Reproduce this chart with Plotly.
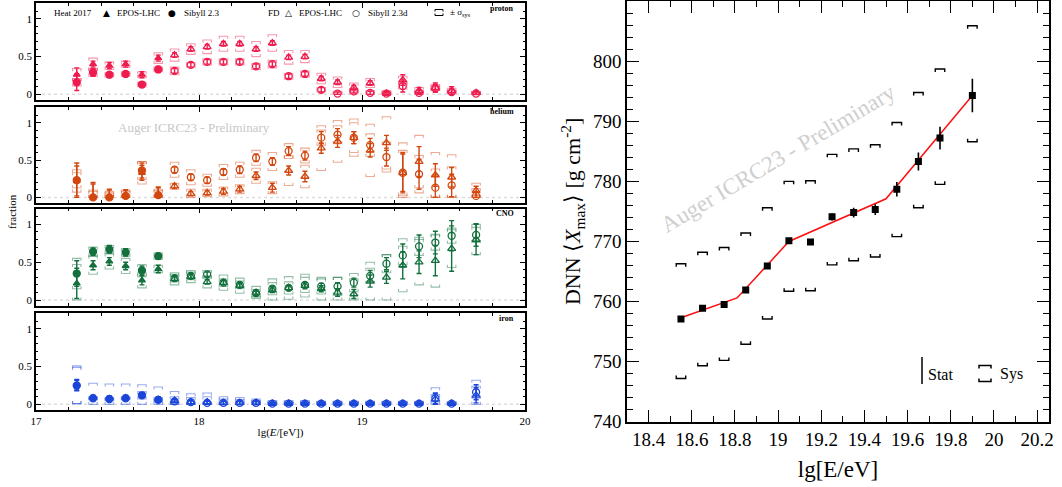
import plotly.graph_objects as go

W, H = 1062, 487
SERIF = "Liberation Serif"

# ---------------- left: composition fractions ----------------
lgE = [17.25, 17.35, 17.45, 17.55, 17.65, 17.75, 17.85, 17.95, 18.05, 18.15, 18.25, 18.35, 18.45,
       18.55, 18.65, 18.75, 18.85, 18.95, 19.05, 19.15, 19.25, 19.35, 19.45, 19.55, 19.70]
N_HEAT = 6  # first bins from Heat 2017, rest from FD

proton_epos = [0.26, 0.40, 0.38, 0.40, 0.26, 0.48, 0.52, 0.60, 0.63, 0.67, 0.67, 0.60, 0.68,
               0.49, 0.50, 0.21, 0.16, 0.09, 0.15, 0.01, 0.19, 0.05, 0.09, 0.05, 0.02]
proton_sib = [0.16, 0.29, 0.26, 0.27, 0.13, 0.33, 0.31, 0.39, 0.43, 0.43, 0.43, 0.37, 0.40,
              0.24, 0.27, 0.06, 0.01, 0.04, 0.02, 0.01, 0.11, 0.02, 0.08, 0.03, 0.01]
proton_epos_stat = [0.09, 0.04, 0.04, 0.04, 0.04, 0.04, 0.03, 0.03, 0.03, 0.03, 0.03, 0.03, 0.03,
                    0.03, 0.03, 0.03, 0.03, 0.03, 0.03, 0.02, 0.07, 0.04, 0.06, 0.05, 0.03]
proton_sib_stat = [0.11, 0.05, 0.03, 0.03, 0.03, 0.04, 0.03, 0.03, 0.03, 0.03, 0.03, 0.03, 0.03,
                   0.03, 0.03, 0.03, 0.02, 0.02, 0.02, 0.02, 0.08, 0.03, 0.05, 0.04, 0.02]
proton_epos_sys = [0.08, 0.08, 0.05, 0.04, 0.04, 0.07, 0.08, 0.07, 0.09, 0.10, 0.10, 0.10, 0.11,
                   0.09, 0.08, 0.07, 0.07, 0.06, 0.06, 0.04, 0.05, 0.04, 0.04, 0.03, 0.02]
proton_sib_sys = [0.05, 0.05, 0.03, 0.03, 0.03, 0.03, 0.05, 0.03, 0.04, 0.04, 0.04, 0.04, 0.05,
                  0.04, 0.04, 0.03, 0.03, 0.03, 0.03, 0.02, 0.04, 0.03, 0.03, 0.02, 0.02]

helium_epos = [0.22, 0.00, 0.00, 0.02, 0.33, 0.03, 0.15, 0.05, 0.06, 0.08, 0.11, 0.29, 0.13,
               0.36, 0.28, 0.66, 0.75, 0.80, 0.63, 0.73, 0.33, 0.48, 0.30, 0.27, 0.09]
helium_sib = [0.23, 0.00, 0.00, 0.02, 0.36, 0.03, 0.37, 0.27, 0.23, 0.34, 0.37, 0.53, 0.48,
              0.62, 0.56, 0.80, 0.84, 0.80, 0.70, 0.54, 0.33, 0.31, 0.13, 0.16, 0.02]
helium_epos_stat = [0.20, 0.18, 0.10, 0.08, 0.10, 0.10, 0.03, 0.03, 0.03, 0.04, 0.04, 0.05, 0.06,
                    0.06, 0.07, 0.07, 0.08, 0.08, 0.09, 0.10, 0.25, 0.20, 0.15, 0.13, 0.06]
helium_sib_stat = [0.23, 0.20, 0.11, 0.08, 0.10, 0.11, 0.04, 0.04, 0.04, 0.04, 0.05, 0.05, 0.05,
                   0.06, 0.06, 0.08, 0.08, 0.08, 0.09, 0.12, 0.27, 0.20, 0.17, 0.15, 0.06]
helium_epos_sys = [0.15, 0.10, 0.08, 0.08, 0.15, 0.08, 0.04, 0.06, 0.05, 0.06, 0.06, 0.10, 0.08,
                   0.20, 0.15, 0.30, 0.28, 0.25, 0.35, 0.35, 0.30, 0.35, 0.30, 0.30, 0.10]
helium_sib_sys = [0.10, 0.08, 0.06, 0.06, 0.12, 0.06, 0.10, 0.10, 0.08, 0.10, 0.10, 0.10, 0.12,
                  0.10, 0.10, 0.10, 0.12, 0.20, 0.15, 0.20, 0.40, 0.25, 0.25, 0.25, 0.10]

cno_epos = [0.22, 0.46, 0.51, 0.45, 0.26, 0.41, 0.28, 0.31, 0.24, 0.23, 0.19, 0.10, 0.13,
            0.16, 0.19, 0.15, 0.10, 0.08, 0.25, 0.30, 0.46, 0.50, 0.52, 0.68, 0.80]
cno_sib = [0.35, 0.64, 0.67, 0.63, 0.39, 0.58, 0.29, 0.32, 0.34, 0.23, 0.20, 0.09, 0.15,
           0.16, 0.20, 0.18, 0.18, 0.23, 0.32, 0.48, 0.59, 0.71, 0.76, 0.85, 0.86]
cno_epos_stat = [0.20, 0.06, 0.05, 0.05, 0.06, 0.05, 0.03, 0.03, 0.03, 0.03, 0.03, 0.03, 0.03,
                 0.03, 0.04, 0.04, 0.05, 0.06, 0.08, 0.08, 0.18, 0.15, 0.20, 0.30, 0.20]
cno_sib_stat = [0.17, 0.05, 0.05, 0.05, 0.06, 0.04, 0.03, 0.03, 0.03, 0.03, 0.03, 0.03, 0.03,
                0.03, 0.03, 0.04, 0.05, 0.06, 0.07, 0.08, 0.15, 0.15, 0.15, 0.20, 0.15]
cno_epos_sys = [0.25, 0.12, 0.10, 0.10, 0.10, 0.05, 0.08, 0.08, 0.08, 0.10, 0.10, 0.08, 0.15,
                0.15, 0.15, 0.15, 0.20, 0.20, 0.25, 0.30, 0.35, 0.30, 0.35, 0.25, 0.20]
cno_sib_sys = [0.20, 0.06, 0.05, 0.05, 0.08, 0.04, 0.05, 0.05, 0.05, 0.05, 0.05, 0.05, 0.08,
               0.08, 0.10, 0.10, 0.12, 0.12, 0.10, 0.12, 0.12, 0.12, 0.10, 0.10, 0.10]

iron_epos = [0.26, 0.09, 0.08, 0.09, 0.12, 0.07, 0.05, 0.03, 0.03, 0.02, 0.02, 0.02, 0.01,
             0.01, 0.01, 0.01, 0.01, 0.01, 0.01, 0.01, 0.01, 0.01, 0.07, 0.01, 0.12]
iron_sib = [0.25, 0.08, 0.07, 0.08, 0.12, 0.06, 0.04, 0.03, 0.02, 0.02, 0.02, 0.02, 0.01,
            0.01, 0.01, 0.01, 0.01, 0.01, 0.01, 0.01, 0.01, 0.01, 0.08, 0.01, 0.16]
iron_epos_stat = [0.07, 0.03, 0.03, 0.03, 0.03, 0.03, 0.02, 0.02, 0.02, 0.02, 0.02, 0.02, 0.01,
                  0.01, 0.01, 0.01, 0.01, 0.01, 0.01, 0.01, 0.01, 0.01, 0.07, 0.01, 0.10]
iron_sib_stat = [0.07, 0.03, 0.03, 0.03, 0.03, 0.03, 0.02, 0.02, 0.02, 0.02, 0.02, 0.02, 0.01,
                 0.01, 0.01, 0.01, 0.01, 0.01, 0.01, 0.01, 0.01, 0.01, 0.07, 0.01, 0.10]
iron_epos_sys = [0.25, 0.19, 0.19, 0.18, 0.14, 0.16, 0.12, 0.11, 0.12, 0.08, 0.07, 0.05, 0.04,
                 0.04, 0.04, 0.03, 0.03, 0.03, 0.03, 0.03, 0.03, 0.03, 0.15, 0.02, 0.20]
iron_sib_sys = [0.24, 0.02, 0.02, 0.02, 0.05, 0.03, 0.06, 0.06, 0.08, 0.05, 0.04, 0.03, 0.02,
                0.02, 0.02, 0.02, 0.02, 0.02, 0.02, 0.02, 0.02, 0.02, 0.05, 0.02, 0.08]

panel_names = ["proton", "helium", "CNO", "iron"]
panel_colors = ["#ee1c4e", "#d2470f", "#13703d", "#1a45d8"]
panel_sys_colors = ["rgba(238,28,78,0.45)", "rgba(210,71,15,0.45)",
                    "rgba(19,112,61,0.45)", "rgba(26,69,216,0.45)"]

# ---------------- right: DNN <Xmax> ----------------
dnn_lgE = [18.55, 18.65, 18.75, 18.85, 18.95, 19.05, 19.15, 19.25, 19.35, 19.45, 19.55, 19.65, 19.75, 19.90]
dnn_xmax = [757.1, 758.9, 759.5, 761.9, 765.9, 770.1, 769.9, 774.1, 774.8, 775.3, 778.7, 783.3, 787.2, 794.3]
dnn_stat = [0.4, 0.4, 0.4, 0.4, 0.4, 0.5, 0.5, 0.6, 0.8, 0.9, 1.2, 1.5, 1.9, 2.8]
dnn_sys_hi = [766.3, 768.2, 769.0, 771.4, 775.6, 780.0, 780.1, 784.5, 785.4, 786.1, 789.8, 794.8, 798.7, 805.9]
dnn_sys_lo = [747.2, 749.3, 750.2, 752.9, 757.1, 761.7, 761.8, 766.1, 766.8, 767.4, 770.8, 775.6, 779.5, 786.6]
fit_lgE = [18.55, 18.81, 19.05, 19.50, 19.90]
fit_xmax = [757.3, 760.6, 770.0, 777.1, 794.3]


def px(x):
    return x / W


def py(y):
    return 1 - y / H


def brackets(xs, lo, hi, hw, th):
    X, Y = [], []
    for x, l, h in zip(xs, lo, hi):
        X += [x - hw, x - hw, x + hw, x + hw, None, x - hw, x - hw, x + hw, x + hw, None]
        Y += [h - th, h, h, h - th, None, l + th, l, l, l + th, None]
    return X, Y


fig = go.Figure()

panel_rows = [(3, 100), (107, 203), (208.5, 305.7), (313, 410)]
series = {
    "proton": (proton_epos, proton_epos_stat, proton_epos_sys, proton_sib, proton_sib_stat, proton_sib_sys),
    "helium": (helium_epos, helium_epos_stat, helium_epos_sys, helium_sib, helium_sib_stat, helium_sib_sys),
    "CNO": (cno_epos, cno_epos_stat, cno_epos_sys, cno_sib, cno_sib_stat, cno_sib_sys),
    "iron": (iron_epos, iron_epos_stat, iron_epos_sys, iron_sib, iron_sib_stat, iron_sib_sys),
}

layout_axes = {}
shapes = []
annotations = []

for k, name in enumerate(panel_names):
    idx = k + 1
    xa = "x" if idx == 1 else f"x{idx}"
    ya = "y" if idx == 1 else f"y{idx}"
    col = panel_colors[k]
    scol = panel_sys_colors[k]
    epos, epos_stat, epos_sys, sib, sib_stat, sib_sys = series[name]

    # systematic brackets
    for vals, sysv in ((epos, epos_sys), (sib, sib_sys)):
        lo = [max(v - s, 0.0) for v, s in zip(vals, sysv)]
        hi = [v + s for v, s in zip(vals, sysv)]
        bx, by = brackets(lgE, lo, hi, 0.026, 0.035)
        fig.add_trace(go.Scatter(x=bx, y=by, mode="lines", xaxis=xa, yaxis=ya,
                                 line=dict(color=scol, width=1.1), showlegend=False,
                                 hoverinfo="skip"))

    def add_pts(xs, vals, stat, symbol, size):
        fig.add_trace(go.Scatter(
            x=xs, y=vals, mode="markers", xaxis=xa, yaxis=ya, showlegend=False,
            marker=dict(symbol=symbol, size=size, color=col, line=dict(color=col, width=1.3)),
            error_y=dict(type="data", array=stat,
                         arrayminus=[min(s, v) for s, v in zip(stat, vals)],
                         color=col, thickness=1.4, width=2.5)))

    add_pts(lgE[:N_HEAT], epos[:N_HEAT], epos_stat[:N_HEAT], "triangle-up", 6)
    add_pts(lgE[:N_HEAT], sib[:N_HEAT], sib_stat[:N_HEAT], "circle", 7)
    add_pts(lgE[N_HEAT:], epos[N_HEAT:], epos_stat[N_HEAT:], "triangle-up-open", 7)
    add_pts(lgE[N_HEAT:], sib[N_HEAT:], sib_stat[N_HEAT:], "circle-open", 7)

    top, bot = panel_rows[k]
    xkey = "xaxis" if idx == 1 else f"xaxis{idx}"
    ykey = "yaxis" if idx == 1 else f"yaxis{idx}"
    layout_axes[xkey] = dict(
        domain=[px(36), px(525)], range=[17, 20], anchor=ya, automargin=False,
        showline=True, mirror="allticks", linecolor="black", linewidth=1.6,
        ticks="inside", ticklen=5, tickwidth=1, tickcolor="black", dtick=1, tick0=17,
        minor=dict(ticks="inside", ticklen=3, dtick=0.2, tickcolor="black", tickwidth=1),
        showgrid=False, zeroline=False, showticklabels=(idx == 4),
        tickfont=dict(family=SERIF, size=11, color="black"),
    )
    if idx == 4:
        layout_axes[xkey]["title"] = dict(text="lg(<i>E</i>/[eV])", standoff=2,
                                          font=dict(family=SERIF, size=11, color="black"))
    layout_axes[ykey] = dict(
        domain=[py(bot), py(top)], range=[-0.075, 1.21], anchor=xa, automargin=False,
        showline=True, mirror="allticks", linecolor="black", linewidth=1.6,
        ticks="inside", ticklen=5, tickwidth=1, tickcolor="black", dtick=0.5, tick0=0,
        minor=dict(ticks="inside", ticklen=2.5, dtick=0.1, tickcolor="black", tickwidth=1),
        showgrid=False, zeroline=False,
        tickfont=dict(family=SERIF, size=11, color="black"),
    )
    shapes.append(dict(type="line", xref=xa, yref=ya, x0=17, x1=20, y0=0, y1=0,
                       line=dict(color="#dddddd", width=1.5, dash="dot"), layer="below"))
    annotations.append(dict(text=f"<b>{name}</b>", x=px(516), y=py(top + 5), xref="paper", yref="paper",
                            xanchor="right", yanchor="middle", showarrow=False,
                            font=dict(family=SERIF, size=8, color="black")))

# Right panel traces
sbx, sby = brackets(dnn_lgE, dnn_sys_lo, dnn_sys_hi, 0.022, 0.5)
fig.add_trace(go.Scatter(x=sbx, y=sby, mode="lines", xaxis="x5", yaxis="y5",
                         line=dict(color="black", width=1.4), showlegend=False, hoverinfo="skip"))
fig.add_trace(go.Scatter(x=fit_lgE, y=fit_xmax, mode="lines", xaxis="x5", yaxis="y5",
                         line=dict(color="#ff1010", width=1.5), showlegend=False))
fig.add_trace(go.Scatter(x=dnn_lgE, y=dnn_xmax, mode="markers", xaxis="x5", yaxis="y5",
                         marker=dict(symbol="square", size=7, color="black"),
                         error_y=dict(type="data", array=dnn_stat, color="black", thickness=1.6, width=0),
                         showlegend=False))

layout_axes["xaxis5"] = dict(
    domain=[px(627), px(1049)], range=[18.3, 20.255], anchor="y5", automargin=False,
    showline=True, mirror="allticks", linecolor="black", linewidth=1.6,
    ticks="inside", ticklen=12, tickwidth=1.3, tickcolor="black", dtick=0.2, tick0=18.4,
    minor=dict(ticks="inside", ticklen=6, dtick=0.1, tickcolor="black", tickwidth=1.3),
    showgrid=False, zeroline=False,
    tickfont=dict(family=SERIF, size=19, color="black"),
    title=dict(text="lg[E/eV]", standoff=12, font=dict(family=SERIF, size=23, color="black")),
)
layout_axes["yaxis5"] = dict(
    domain=[py(421.7), py(1)], range=[740, 810.02], anchor="x5", automargin=False,
    showline=True, mirror="allticks", linecolor="black", linewidth=1.6,
    ticks="inside", ticklen=12, tickwidth=1.3, tickcolor="black", dtick=10, tick0=740,
    minor=dict(ticks="inside", ticklen=6, dtick=2, tickcolor="black", tickwidth=1.3),
    showgrid=False, zeroline=False,
    tickfont=dict(family=SERIF, size=19, color="black"),
    title=dict(text="DNN ⟨<i>X</i><sub>max</sub>⟩ [g cm<sup>-2</sup>]", standoff=6,
               font=dict(family=SERIF, size=22, color="black")),
)

# Left-side texts
txt = dict(family=SERIF, size=9, color="black")
for text, x, anchor in [("Heat 2017", 52, "left"), ("EPOS-LHC", 115, "left"), ("Sibyll 2.3", 182, "left"),
                        ("FD", 266, "left"), ("EPOS-LHC", 297, "left"), ("Sibyll 2.3d", 366, "left"),
                        ("± σ<sub>sys</sub>", 448, "left")]:
    annotations.append(dict(text=text, x=px(x), y=py(12.5), xref="paper", yref="paper",
                            xanchor=anchor, yanchor="middle", showarrow=False, font=txt))
for sym, x in [("▲", 106), ("●", 172), ("△", 288), ("○", 356)]:
    annotations.append(dict(text=sym, x=px(x), y=py(12.5), xref="paper", yref="paper",
                            xanchor="center", yanchor="middle", showarrow=False,
                            font=dict(family="DejaVu Sans", size=9, color="black")))
# legend bracket symbol (left)
shapes.append(dict(type="path", xref="paper", yref="paper", line=dict(color="black", width=1),
                   path=f"M {px(435)},{py(11.5)} L {px(435)},{py(9.5)} L {px(443)},{py(9.5)} L {px(443)},{py(11.5)}"))
shapes.append(dict(type="path", xref="paper", yref="paper", line=dict(color="black", width=1),
                   path=f"M {px(435)},{py(13.5)} L {px(435)},{py(15.5)} L {px(443)},{py(15.5)} L {px(443)},{py(13.5)}"))

annotations.append(dict(text="fraction", x=px(12), y=py(212), xref="paper", yref="paper",
                        textangle=-90, showarrow=False, xanchor="center", yanchor="middle",
                        font=dict(family=SERIF, size=11, color="black")))
annotations.append(dict(text="Auger ICRC23 - Preliminary", x=px(194), y=py(127.5), xref="paper", yref="paper",
                        showarrow=False, xanchor="center", yanchor="middle",
                        font=dict(family=SERIF, size=13, color="#c8c8c8")))
# Right-side watermark & legend
annotations.append(dict(text="Auger ICRC23 - Preliminary", x=px(778), y=py(158), xref="paper", yref="paper",
                        showarrow=False, xanchor="center", yanchor="middle", textangle=-30.7,
                        font=dict(family=SERIF, size=23, color="#cfcfcf")))
shapes.append(dict(type="line", xref="paper", yref="paper", x0=px(922), x1=px(922), y0=py(357), y1=py(384),
                   line=dict(color="black", width=1.5)))
annotations.append(dict(text="Stat", x=px(926), y=py(374), xref="paper", yref="paper", showarrow=False,
                        xanchor="left", yanchor="middle", font=dict(family=SERIF, size=16, color="black")))
shapes.append(dict(type="path", xref="paper", yref="paper", line=dict(color="black", width=1.5),
                   path=f"M {px(979)},{py(368.5)} L {px(979)},{py(365.5)} L {px(991)},{py(365.5)} L {px(991)},{py(368.5)}"))
shapes.append(dict(type="path", xref="paper", yref="paper", line=dict(color="black", width=1.5),
                   path=f"M {px(979)},{py(378.5)} L {px(979)},{py(381.5)} L {px(991)},{py(381.5)} L {px(991)},{py(378.5)}"))
annotations.append(dict(text="Sys", x=px(998), y=py(374), xref="paper", yref="paper", showarrow=False,
                        xanchor="left", yanchor="middle", font=dict(family=SERIF, size=16, color="black")))

fig.update_layout(
    width=W, height=H, margin=dict(l=0, r=0, t=0, b=0),
    paper_bgcolor="white", plot_bgcolor="white", showlegend=False,
    shapes=shapes, annotations=annotations, **layout_axes,
)

fig.write_html("out.html", config={"displayModeBar": False},
               post_script="document.body.style.margin='0px';document.body.style.overflow='hidden';")
